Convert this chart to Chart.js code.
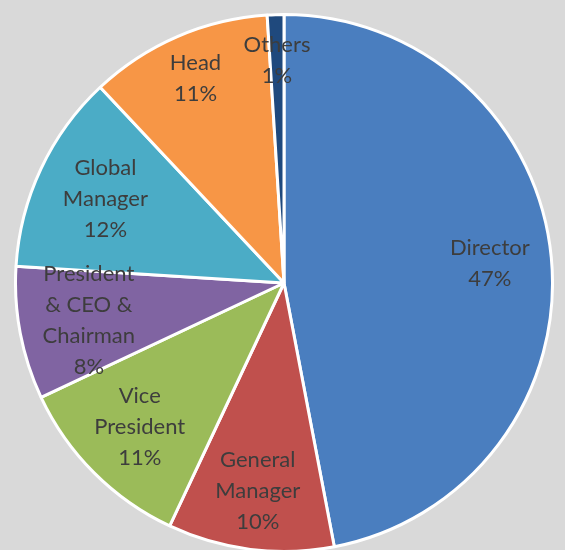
<!DOCTYPE html>
<html>
<head>
<meta charset="utf-8">
<script src="https://cdn.jsdelivr.net/npm/chart.js@4/dist/chart.umd.min.js"></script>
<style>
  html, body { margin: 0; padding: 0; background: #d9d9d9; overflow: hidden; }
  body { width: 565px; height: 550px; position: relative; }
  #wrap { position: absolute; left: 14px; top: 13px; width: 540px; height: 540px; }
</style>
</head>
<body>
<div id="wrap"><canvas id="myChart"></canvas></div>
<script>
// categories (split in lines as shown on the slices)
var categories = [
    ['Director'],
    ['General', 'Manager'],
    ['Vice', 'President'],
    ['President', '& CEO &', 'Chairman'],
    ['Global', 'Manager'],
    ['Head'],
    ['Others']
];
// share of each title, %
var shares = [47, 10, 11, 8, 12, 11, 1];

var colors = ['#4a7ebf', '#c0504d', '#9bbb59', '#8064a2', '#4bacc6', '#f79646', '#1f497d'];
// how far out each label sits (fraction of radius)
var labelRadius = [0.77, 0.78, 0.76, 0.74, 0.735, 0.83, 0.83];

// draws the name + percent inside each slice
const sliceLabels = {
    id: 'sliceLabels',
    afterDatasetsDraw: function(chart) {
        const ctx = chart.ctx;
        const meta = chart.getDatasetMeta(0);
        const total = shares.reduce(function(a, b) { return a + b; }, 0);
        ctx.save();
        ctx.font = '22px Lato';
        ctx.fillStyle = '#3d3d3d';
        ctx.textAlign = 'center';
        ctx.textBaseline = 'middle';
        const lh = 31;
        meta.data.forEach(function(arc, i) {
            const p = arc.getProps(['x', 'y', 'startAngle', 'endAngle', 'outerRadius']);
            const mid = (p.startAngle + p.endAngle) / 2;
            const r = p.outerRadius * labelRadius[i];
            const cx = p.x + Math.cos(mid) * r;
            const cy = p.y + Math.sin(mid) * r;
            const lines = categories[i].concat([Math.round(shares[i] / total * 100) + '%']);
            const y0 = cy - (lines.length - 1) * lh / 2;
            lines.forEach(function(t, k) {
                ctx.fillText(t, cx, y0 + k * lh);
            });
        });
        ctx.restore();
    }
};

const ctx = document.getElementById('myChart').getContext('2d');
const myChart = new Chart(ctx, {
    type: 'pie',
    data: {
        labels: categories,
        datasets: [{
            data: shares,
            backgroundColor: colors,
            borderColor: '#ffffff',
            borderWidth: 3
        }]
    },
    options: {
        responsive: true,
        maintainAspectRatio: false,
        animation: false,
        layout: { padding: 0 },
        plugins: {
            legend: { display: false },
            tooltip: { enabled: false }
        }
    },
    plugins: [sliceLabels]
});
</script>
</body>
</html>
